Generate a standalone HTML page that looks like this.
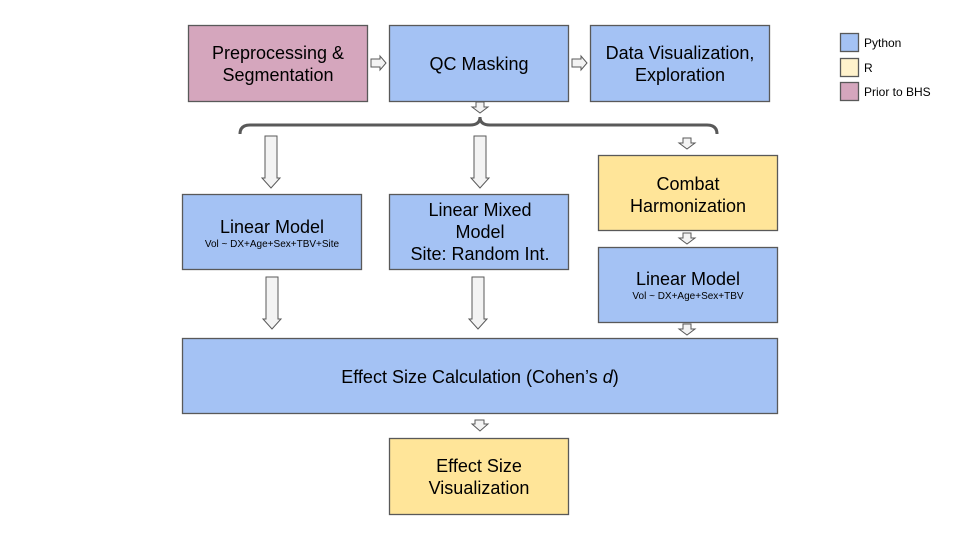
<!DOCTYPE html>
<html><head><meta charset="utf-8"><style>
body{margin:0;background:#fff}
text{font-family:"Liberation Sans",Arial,sans-serif;fill:#000}
</style></head><body>
<svg width="960" height="540" viewBox="0 0 960 540" xmlns="http://www.w3.org/2000/svg">
<g stroke="#595959" stroke-width="1.3">
<rect x="188.5" y="25.5" width="179" height="76" fill="#d5a6bd"/>
<rect x="389.5" y="25.5" width="179" height="76" fill="#a4c2f4"/>
<rect x="590.5" y="25.5" width="179" height="76" fill="#a4c2f4"/>
<rect x="182.5" y="194.5" width="179" height="75" fill="#a4c2f4"/>
<rect x="389.5" y="194.5" width="179" height="75" fill="#a4c2f4"/>
<rect x="598.5" y="155.5" width="179" height="75" fill="#ffe599"/>
<rect x="598.5" y="247.5" width="179" height="75" fill="#a4c2f4"/>
<rect x="182.5" y="338.5" width="595" height="75" fill="#a4c2f4"/>
<rect x="389.5" y="438.5" width="179" height="76" fill="#ffe599"/>
<rect x="840.5" y="33.5" width="18" height="18" fill="#a4c2f4"/>
<rect x="840.5" y="58.5" width="18" height="18" fill="#fff2cc"/>
<rect x="840.5" y="82.5" width="18" height="18" fill="#d5a6bd"/>
</g>
<g fill="#f3f3f3" stroke="#595959" stroke-width="1">
<!-- right arrows -->
<polygon points="371,59 380,59 380,56 386,63 380,70 380,67 371,67"/>
<polygon points="572,59 581,59 581,56 587,63 581,70 581,67 572,67"/>
<!-- small downs -->
<polygon points="476,102 484,102 484,107 488,107 480,113 472,107 476,107"/>
<polygon points="683,138 691,138 691,143 695,143 687,149 679,143 683,143"/>
<polygon points="683,233 691,233 691,238 695,238 687,244 679,238 683,238"/>
<polygon points="683,324 691,324 691,329 695,329 687,335 679,329 683,329"/>
<polygon points="475,420 484,420 484,424 488,424 480,431 472,424 475,424"/>
<!-- long downs -->
<polygon points="265,136 277,136 277,178 280,178 271,188 262,178 265,178"/>
<polygon points="474,136 486,136 486,178 489,178 480,188 471,178 474,178"/>
<polygon points="266,277 278,277 278,319 281,319 272,329 263,319 266,319"/>
<polygon points="472,277 484,277 484,319 487,319 478,329 469,319 472,319"/>
</g>
<path d="M240,134 Q240,125 250,125 L470,125 Q480,125 480,117 Q480,125 490,125 L707,125 Q717,125 717,134" fill="none" stroke="#595959" stroke-width="3"/>
<g text-anchor="middle" font-size="18">
<text x="278" y="59">Preprocessing &amp;</text>
<text x="278" y="81">Segmentation</text>
<text x="479" y="70">QC Masking</text>
<text x="680" y="59">Data Visualization,</text>
<text x="680" y="81">Exploration</text>
<text x="272" y="233">Linear Model</text>
<text x="480" y="216">Linear Mixed</text>
<text x="480" y="238">Model</text>
<text x="480" y="260">Site: Random Int.</text>
<text x="688" y="190">Combat</text>
<text x="688" y="212">Harmonization</text>
<text x="688" y="285">Linear Model</text>
<text x="480" y="383">Effect Size Calculation (Cohen’s <tspan font-style="italic">d</tspan>)</text>
<text x="479" y="472">Effect Size</text>
<text x="479" y="494">Visualization</text>
</g>
<g text-anchor="middle" font-size="10">
<text x="272" y="247">Vol ~ DX+Age+Sex+TBV+Site</text>
<text x="688" y="299">Vol ~ DX+Age+Sex+TBV</text>
</g>
<g font-size="12">
<text x="864" y="47">Python</text>
<text x="864" y="72">R</text>
<text x="864" y="96">Prior to BHS</text>
</g>
</svg>
</body></html>
